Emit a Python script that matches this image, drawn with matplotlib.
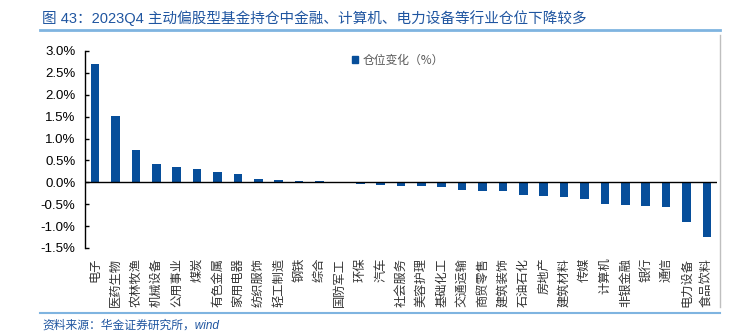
import matplotlib
matplotlib.use("Agg")
import matplotlib.pyplot as plt
from matplotlib.lines import Line2D
from matplotlib.patches import Patch
from matplotlib.ticker import FuncFormatter

plt.rcParams["font.family"] = ["Liberation Sans", "Noto Sans CJK SC", "DejaVu Sans"]

# industry position change, 2023Q4 (%)
industries = [
    "电子", "医药生物", "农林牧渔", "机械设备", "公用事业", "煤炭", "有色金属",
    "家用电器", "纺织服饰", "轻工制造", "钢铁", "综合", "国防军工", "环保",
    "汽车", "社会服务", "美容护理", "基础化工", "交通运输", "商贸零售",
    "建筑装饰", "石油石化", "房地产", "建筑材料", "传媒", "计算机",
    "非银金融", "银行", "通信", "电力设备", "食品饮料",
]
changes = [
    2.70, 1.51, 0.74, 0.43, 0.34, 0.31, 0.24, 0.19, 0.08, 0.05, 0.03, 0.02,
    -0.02, -0.03, -0.07, -0.08, -0.08, -0.10, -0.18, -0.20, -0.20, -0.30,
    -0.31, -0.33, -0.37, -0.49, -0.52, -0.55, -0.56, -0.90, -1.26,
]
y_ticks = [-1.5, -1.0, -0.5, 0.0, 0.5, 1.0, 1.5, 2.0, 2.5, 3.0]

BAR = "#074e9a"
TITLE_BLUE = "#1f55a0"
RULE_BLUE = "#7fb4e0"
GREY = "#595959"

W, H = 735, 332
fig = plt.figure(figsize=(W / 100, H / 100), dpi=100)
ax = fig.add_axes([85 / W, 1 - 248 / H, (717 - 85) / W, (248 - 51) / H])

x = list(range(len(industries)))
ax.bar(x, changes, width=0.42, color=BAR, zorder=2)
ax.axhline(0, color="black", lw=1.0, zorder=3)

ax.set_xlim(-0.5, len(industries) - 0.5)
ax.set_ylim(-1.5, 3.0)
ax.set_yticks(y_ticks)
ax.yaxis.set_major_formatter(FuncFormatter(lambda v, p: f"{v:.1f}%"))
ax.tick_params(axis="y", direction="in", length=3, width=1, labelsize=9.5,
               pad=7, colors="black")
ax.set_xticks(x)
ax.set_xticklabels(industries, rotation=90, va="top", ha="center",
                   fontsize=8.8, color="#333333",
                   family=["Noto Sans CJK SC", "DejaVu Sans"])
ax.tick_params(axis="x", length=0, pad=7)

for side in ("top", "right", "bottom"):
    ax.spines[side].set_visible(False)
ax.spines["left"].set_color("black")
ax.spines["left"].set_linewidth(1.0)

leg = ax.legend(handles=[Patch(color=BAR, label="仓位变化（%）")],
                loc="upper left", bbox_to_anchor=(0.405, 1.04), frameon=False,
                handlelength=0.55, handleheight=0.55, handletextpad=0.4,
                prop={"family": ["Noto Sans CJK SC", "DejaVu Sans"], "size": 8.5})
for t in leg.get_texts():
    t.set_color(GREY)

# header, rules and source line
fig.text(42 / W, 1 - 18 / H,
         "图 43：2023Q4 主动偏股型基金持仓中金融、计算机、电力设备等行业仓位下降较多",
         color=TITLE_BLUE, fontsize=10.5, va="center", ha="left")
fig.add_artist(Line2D([40 / W, 720 / W], [1 - 30 / H, 1 - 30 / H],
                      color=RULE_BLUE, lw=2.0, transform=fig.transFigure))
fig.add_artist(Line2D([720 / W, 720 / W], [1 - 35 / H, 1 - 307 / H],
                      color="#bfbfbf", lw=1.0, transform=fig.transFigure))
fig.add_artist(Line2D([40 / W, 720 / W], [1 - 313 / H, 1 - 313 / H],
                      color=RULE_BLUE, lw=1.5, transform=fig.transFigure))
fig.text(42 / W, 1 - 326 / H, "资料来源：华金证券研究所，wind",
         color=TITLE_BLUE, fontsize=8.5, va="center", ha="left", style="italic")

fig.savefig("out.png", dpi=100)
